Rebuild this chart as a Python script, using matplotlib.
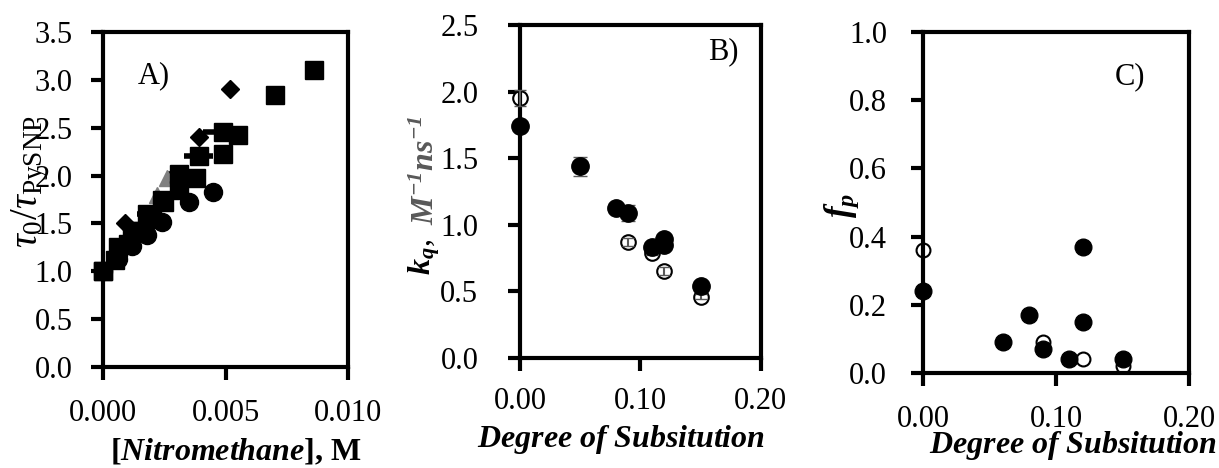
import numpy as np
import matplotlib
matplotlib.use("Agg")
import matplotlib.pyplot as plt

plt.rcParams['font.family'] = 'Liberation Serif'
plt.rcParams['mathtext.fontset'] = 'custom'
plt.rcParams['mathtext.rm'] = 'Liberation Serif'
plt.rcParams['mathtext.it'] = 'Liberation Serif:italic'
plt.rcParams['mathtext.bf'] = 'Liberation Serif:bold'
plt.rcParams['mathtext.bfit'] = 'Liberation Serif:bold:italic'

# ---- panel A data: tau0/tau vs [nitromethane]
a_sq1_x = [0.0, 0.0006, 0.0012, 0.0018, 0.0024, 0.0031, 0.0039, 0.0049, 0.0070, 0.0086]
a_sq1_y = [1.0, 1.25, 1.42, 1.60, 1.75, 2.02, 2.20, 2.46, 2.84, 3.10]
a_sq1_xerr = [0.0, 0.0002, 0.0003, 0.0004, 0.0004, 0.0005, 0.0006, 0.0008, 0.0, 0.0]
a_sq2_x = [0.0, 0.0005, 0.0010, 0.0015, 0.0020, 0.0025, 0.0031, 0.0038, 0.0049, 0.0055]
a_sq2_y = [1.0, 1.12, 1.28, 1.42, 1.55, 1.72, 1.85, 1.97, 2.23, 2.42]
a_sq2_yerr = [0.0, 0.02, 0.03, 0.03, 0.04, 0.05, 0.06, 0.07, 0.08, 0.08]
a_ci_x = [0.0, 0.0006, 0.0012, 0.0018, 0.0024, 0.0035, 0.0045]
a_ci_y = [1.0, 1.13, 1.26, 1.38, 1.52, 1.72, 1.83]
a_di_x = [0.0, 0.0009, 0.0039, 0.0052]
a_di_y = [1.0, 1.50, 2.40, 2.90]
a_tr_x = [0.0, 0.0010, 0.0022, 0.0026]
a_tr_y = [1.0, 1.35, 1.80, 1.97]

# ---- panel B data: kq vs degree of substitution
b_fill_x = [0.0, 0.05, 0.08, 0.09, 0.11, 0.12, 0.12, 0.15]
b_fill_y = [1.74, 1.44, 1.13, 1.09, 0.83, 0.89, 0.85, 0.54]
b_fill_err = [0.03, 0.07, 0.03, 0.06, 0.03, 0.03, 0.03, 0.03]
b_open_x = [0.0, 0.09, 0.11, 0.12, 0.15]
b_open_y = [1.95, 0.87, 0.79, 0.65, 0.46]
b_open_err = [0.06, 0.03, 0.02, 0.03, 0.02]

# ---- panel C data: fp vs degree of substitution
c_fill_x = [0.0, 0.06, 0.08, 0.09, 0.11, 0.12, 0.12, 0.15]
c_fill_y = [0.24, 0.09, 0.17, 0.07, 0.04, 0.37, 0.15, 0.04]
c_open_x = [0.0, 0.09, 0.12, 0.15]
c_open_y = [0.36, 0.09, 0.04, 0.02]

fig = plt.figure(figsize=(12.19, 4.68), dpi=100)
axA = fig.add_axes([0.0845, 0.2158, 0.201, 0.7158])
axB = fig.add_axes([0.4266, 0.2350, 0.1975, 0.7115])
axC = fig.add_axes([0.7572, 0.2030, 0.2182, 0.7286])

def style(ax, ypad, xpad):
    for s in ax.spines.values():
        s.set_linewidth(3)
    ax.tick_params(direction='out', length=9, width=3, labelsize=22,
                   top=False, right=False)
    ax.tick_params(axis='y', pad=ypad)
    ax.tick_params(axis='x', pad=xpad)

# A
axA.errorbar(a_sq2_x, a_sq2_y, yerr=a_sq2_yerr, fmt='none', ecolor='#7fb2e0', elinewidth=1.5, capsize=5)
axA.errorbar(a_sq1_x, a_sq1_y, xerr=a_sq1_xerr, fmt='none', ecolor='black', elinewidth=4, capsize=0)
axA.plot(a_tr_x, a_tr_y, '^', color='#808080', ms=11, ls='none')
axA.plot(a_di_x, a_di_y, 'D', color='black', ms=9, ls='none', clip_on=False)
axA.plot(a_ci_x, a_ci_y, 'o', color='black', ms=13, ls='none', clip_on=False)
axA.plot(a_sq2_x, a_sq2_y, 's', color='black', ms=13.5, ls='none', clip_on=False)
axA.plot(a_sq1_x, a_sq1_y, 's', color='black', ms=13.5, ls='none', clip_on=False)
axA.set_xlim(0, 0.010)
axA.set_ylim(0, 3.5)
axA.set_xticks([0, 0.005, 0.010])
axA.set_xticklabels(['0.000', '0.005', '0.010'])
axA.set_yticks(np.arange(0, 3.51, 0.5))
axA.set_yticklabels([f'{v:.1f}' for v in np.arange(0, 3.51, 0.5)])
axA.text(0.14, 0.87, 'A)', transform=axA.transAxes, fontsize=22, ha='left', va='center')
style(axA, 13, 14)

# B
axB.plot(b_fill_x, b_fill_y, 'o', color='black', ms=12.5, ls='none', clip_on=False, zorder=3)
axB.errorbar(b_fill_x, b_fill_y, yerr=b_fill_err, fmt='none', ecolor='#595959',
             elinewidth=2, capsize=5, clip_on=False, zorder=2)
axB.plot(b_open_x, b_open_y, 'o', mfc='white', mec='black', mew=1.5, ms=10.5, ls='none',
         clip_on=False, zorder=2.5)
axB.errorbar(b_open_x, b_open_y, yerr=b_open_err, fmt='none', ecolor='#595959',
             elinewidth=1.5, capsize=4, clip_on=False, zorder=2.6)
axB.set_xlim(0, 0.20)
axB.set_ylim(0, 2.5)
axB.set_xticks([0, 0.10, 0.20])
axB.set_xticklabels(['0.00', '0.10', '0.20'])
axB.set_yticks(np.arange(0, 2.51, 0.5))
axB.set_yticklabels([f'{v:.1f}' for v in np.arange(0, 2.51, 0.5)])
axB.text(0.78, 0.92, 'B)', transform=axB.transAxes, fontsize=22, ha='left', va='center')
style(axB, 21, 12)

# C
axC.plot(c_fill_x, c_fill_y, 'o', color='black', ms=12, ls='none', clip_on=False, zorder=3)
axC.plot(c_open_x, c_open_y, 'o', mfc='white', mec='black', mew=1.5, ms=10, ls='none',
         clip_on=False, zorder=2)
axC.set_xlim(0, 0.20)
axC.set_ylim(0, 1.0)
axC.set_xticks([0, 0.10, 0.20])
axC.set_xticklabels(['0.00', '0.10', '0.20'])
axC.set_yticks(np.arange(0, 1.01, 0.2))
axC.set_yticklabels([f'{v:.1f}' for v in np.arange(0, 1.01, 0.2)])
axC.text(0.72, 0.87, 'C)', transform=axC.transAxes, fontsize=22, ha='left', va='center')
style(axC, 17, 14)

# axis labels
fig.text(236 / 1219, 1 - 452 / 468, r'[$\mathbfit{Nitromethane}$], M', fontsize=23,
         fontweight='bold', ha='center', va='center')
fig.text(621 / 1219, 1 - 440 / 468, r'$\mathbfit{Degree\ of\ Subsitution}$', fontsize=23,
         ha='center', va='center')
fig.text(1073 / 1219, 1 - 446 / 468, r'$\mathbfit{Degree\ of\ Subsitution}$', fontsize=23,
         ha='center', va='center')

fig.text(30 / 1219, 1 - 182 / 468, r'$\tau_0/\tau_{\mathrm{PySNP}}$', fontsize=28,
         rotation=90, ha='center', va='center')
fig.text(424 / 1219, 1 - 257 / 468, r'$\mathbfit{k_q}$,', fontsize=23,
         rotation=90, ha='center', va='center')
fig.text(426 / 1219, 1 - 170 / 468, r'$\mathbfit{M^{-1}ns^{-1}}$', fontsize=23,
         rotation=90, ha='center', va='center', color='#595959')
fig.text(842 / 1219, 1 - 205 / 468, r'$\mathbfit{f_p}$', fontsize=25,
         rotation=90, ha='center', va='center')

fig.savefig('out.png', dpi=100)
